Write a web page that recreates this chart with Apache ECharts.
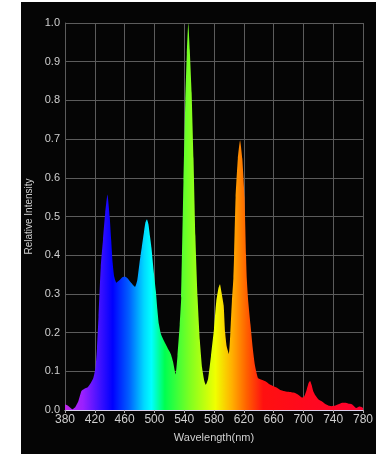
<!DOCTYPE html>
<html>
<head>
<meta charset="utf-8">
<script src="https://cdn.jsdelivr.net/npm/echarts@6/dist/echarts.min.js"></script>
<style>
  html, body { margin: 0; padding: 0; background: #ffffff; width: 376px; height: 454px; overflow: hidden; }
  #panel { position: absolute; left: 21px; top: 2px; width: 355px; height: 452px; background: #050505; }
</style>
</head>
<body>
<div id="panel"></div>
<script>
// Emission spectrum: wavelength (nm) and relative intensity
const wavelengths = [
  380, 383, 386, 390, 394, 398, 402, 406, 410, 414, 418, 421, 423, 425, 428, 431, 434, 437, 440, 442,
  444, 446, 449, 453, 457, 461, 465, 469, 474, 477, 480, 483, 486, 488, 490, 492, 494, 496, 499, 502,
  504, 506, 509, 513, 517, 522, 525, 528.5, 531, 534, 536, 539, 541.5, 543.5, 545.5, 547.5, 550, 552.5, 555, 558,
  561, 564, 567, 569, 572, 576, 580, 583, 586, 588, 590, 593, 595, 597, 600, 602, 604, 606, 607, 609,
  612, 615, 618, 621, 623, 624, 626, 629, 632, 635, 639, 644, 649, 654, 659, 664, 669, 674, 679, 684,
  689, 694, 698, 701, 704, 707, 709, 711, 713, 716, 720, 724, 729, 734, 738, 742, 747, 752, 756, 760,
  765, 768, 771, 775, 778, 780
];
const intensity = [
  0.014, 0.012, 0.008, 0.002, 0.008, 0.023, 0.049, 0.055, 0.058, 0.068, 0.083, 0.11, 0.16, 0.24, 0.37, 0.44, 0.51, 0.557, 0.50, 0.44,
  0.38, 0.345, 0.329, 0.335, 0.343, 0.344, 0.338, 0.328, 0.318, 0.335, 0.38, 0.42, 0.46, 0.485, 0.493, 0.48, 0.45, 0.42, 0.36, 0.307,
  0.26, 0.222, 0.195, 0.178, 0.163, 0.145, 0.125, 0.092, 0.14, 0.22, 0.29, 0.59, 0.8, 0.92, 1.0, 0.93, 0.82, 0.65, 0.45, 0.29,
  0.18, 0.11, 0.075, 0.065, 0.08, 0.14, 0.21, 0.28, 0.315, 0.325, 0.305, 0.27, 0.2, 0.165, 0.145, 0.2, 0.28, 0.34, 0.4, 0.55,
  0.65, 0.697, 0.65, 0.55, 0.4, 0.34, 0.28, 0.22, 0.16, 0.115, 0.083, 0.078, 0.074, 0.067, 0.062, 0.058, 0.052, 0.049, 0.047, 0.046,
  0.044, 0.038, 0.032, 0.035, 0.05, 0.07, 0.075, 0.065, 0.05, 0.038, 0.028, 0.023, 0.016, 0.011, 0.01, 0.011, 0.015, 0.019, 0.019, 0.017,
  0.015, 0.01, 0.005, 0.009, 0.008, 0.006
];
const xTitle = 'Wavelength(nm)';
const yTitle = 'Relative Intensity';

const seriesData = wavelengths.map((w, i) => [w, intensity[i]]);

// Visible-spectrum colours across the 380–780 nm span
const spectrumStops = [
  { offset: 0.000, color: '#c028e8' },
  { offset: 0.060, color: '#9a20ff' },
  { offset: 0.120, color: '#3a10ff' },
  { offset: 0.160, color: '#0000ff' },
  { offset: 0.215, color: '#0060ff' },
  { offset: 0.265, color: '#00d8ff' },
  { offset: 0.290, color: '#00ffff' },
  { offset: 0.335, color: '#00ff50' },
  { offset: 0.420, color: '#80ff20' },
  { offset: 0.505, color: '#f0ff00' },
  { offset: 0.560, color: '#ffb000' },
  { offset: 0.610, color: '#ff6000' },
  { offset: 0.665, color: '#ff1010' },
  { offset: 1.000, color: '#ff0030' }
];

const chart = echarts.init(document.getElementById('panel'), null, { renderer: 'canvas' });
chart.setOption({
  backgroundColor: 'transparent',
  animation: false,
  grid: { left: 44, right: 13, top: 21, bottom: 44, containLabel: false, outerBoundsMode: 'none' },
  xAxis: {
    type: 'value',
    min: 380,
    max: 780,
    interval: 40,
    name: xTitle,
    nameLocation: 'middle',
    nameGap: 22,
    nameTextStyle: { color: '#cfcfcf', fontSize: 11, fontFamily: 'Liberation Sans' },
    axisLine: { show: true, lineStyle: { color: '#d8d0ec', width: 1 } },
    axisTick: { show: true, length: 3, lineStyle: { color: '#aaaaaa' } },
    axisLabel: { color: '#cfcfcf', fontSize: 12, margin: 4, fontFamily: 'Liberation Sans' },
    splitLine: { show: true, lineStyle: { color: '#5c5c5c', width: 1 } }
  },
  yAxis: {
    type: 'value',
    min: 0,
    max: 1,
    interval: 0.1,
    name: yTitle,
    nameLocation: 'middle',
    nameRotate: 90,
    nameGap: 30,
    nameTextStyle: { color: '#cfcfcf', fontSize: 10, fontFamily: 'Liberation Sans' },
    axisLine: { show: true, lineStyle: { color: '#5c5c5c' } },
    axisTick: { show: false },
    axisLabel: { color: '#cfcfcf', fontSize: 11, margin: 5, fontFamily: 'Liberation Sans',
      formatter: v => v.toFixed(1) },
    splitLine: { show: true, lineStyle: { color: '#5c5c5c', width: 1 } }
  },
  series: [{
    type: 'line',
    data: seriesData,
    showSymbol: false,
    smooth: 0.15,
    lineStyle: { width: 0 },
    areaStyle: {
      opacity: 1,
      color: new echarts.graphic.LinearGradient(0, 0, 1, 0, spectrumStops)
    },
    z: 3
  }]
});
</script>
</body>
</html>
